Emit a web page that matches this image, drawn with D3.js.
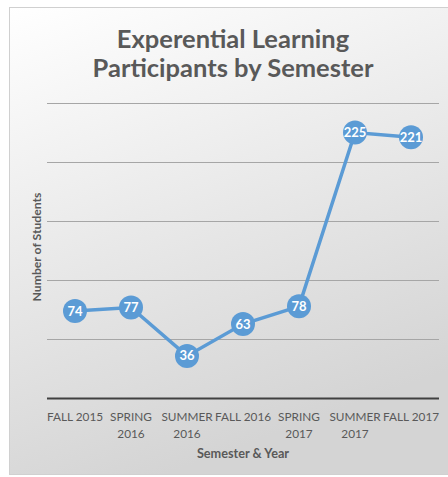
<!DOCTYPE html>
<html>
<head>
<meta charset="utf-8">
<script src="https://cdn.jsdelivr.net/npm/d3@7"></script>
<style>
  body { margin: 0; background: #fff; }
  svg { display: block; }
</style>
</head>
<body>
<svg width="448" height="477"></svg>
<script>
    let semesters = ["FALL 2015", "SPRING 2016", "SUMMER 2016", "FALL 2016", "SPRING 2017", "SUMMER 2017", "FALL 2017"];
    let tickLines = [["FALL 2015"], ["SPRING", "2016"], ["SUMMER", "2016"], ["FALL 2016"], ["SPRING", "2017"], ["SUMMER", "2017"], ["FALL 2017"]];
    let participants = [74, 77, 36, 63, 78, 225, 221];
    let gridValues = [50, 100, 150, 200, 250];

    let margin = { top: 103, right: 9, bottom: 78, left: 47 };
    let width = 448;
    let height = 477;

    let svg = d3.select("svg");

    let defs = svg.append("defs");
    let grad = defs.append("linearGradient")
        .attr("id", "bg")
        .attr("x1", "0").attr("y1", "0").attr("x2", "0.35").attr("y2", "1");
    grad.append("stop").attr("offset", "0%").attr("stop-color", "#ffffff");
    grad.append("stop").attr("offset", "100%").attr("stop-color", "#d4d4d4");

    svg.append("rect")
        .attr("x", 9.5).attr("y", 7.5)
        .attr("width", 445).attr("height", 467)
        .attr("fill", "url(#bg)")
        .attr("stroke", "#d0d0d0")

    let x = d3.scaleBand()
        .domain(semesters)
        .range([margin.left, width - margin.right])

    let y = d3.scaleLinear()
        .domain([0, 250])
        .range([398.5, margin.top])

    svg.append("g")
        .selectAll("line")
        .data(gridValues)
        .join("line")
        .attr("x1", margin.left)
        .attr("x2", width - margin.right)
        .attr("y1", d => Math.round(y(d)) + 0.5)
        .attr("y2", d => Math.round(y(d)) + 0.5)
        .style("stroke", "#a6a6a6")
        .style("stroke-width", 1)

    svg.append("line")
        .attr("x1", margin.left)
        .attr("x2", width - margin.right)
        .attr("y1", y(0))
        .attr("y2", y(0))
        .style("stroke", "#404040")
        .style("stroke-width", 2.2)

    let labels = svg.append("g")
        .selectAll("text")
        .data(semesters)
        .join("text")
        .attr("x", d => x(d) + x.bandwidth() / 2)
        .attr("y", 421)
        .attr("text-anchor", "middle")
        .style("font-family", "Lato, 'Open Sans', sans-serif")
        .style("font-size", "11.8px")
        .style("fill", "#595959")

    labels.selectAll("tspan")
        .data((d, i) => tickLines[i])
        .join("tspan")
        .attr("x", function () { return d3.select(this.parentNode).attr("x") })
        .attr("dy", (d, i) => i == 0 ? 0 : 17)
        .text(d => d)

    let line = d3.line()
        .x((d, i) => x(semesters[i]) + x.bandwidth() / 2)
        .y(d => y(d))

    svg.append("path")
        .datum(participants)
        .attr("d", line)
        .style("fill", "none")
        .style("stroke", "#5b9bd5")
        .style("stroke-width", 3.5)

    svg.append("g")
        .selectAll("circle")
        .data(participants)
        .join("circle")
        .attr("cx", (d, i) => x(semesters[i]) + x.bandwidth() / 2)
        .attr("cy", d => y(d))
        .attr("r", 12)
        .attr("fill", "#5b9bd5")

    svg.append("g")
        .selectAll("text")
        .data(participants)
        .join("text")
        .attr("x", (d, i) => x(semesters[i]) + x.bandwidth() / 2)
        .attr("y", d => y(d) + 4.5)
        .attr("text-anchor", "middle")
        .text(d => d)
        .style("font-family", "Lato, 'Open Sans', sans-serif")
        .style("font-weight", "bold")
        .style("font-size", "13px")
        .style("fill", "#ffffff")

    let title = svg.append("text")
        .attr("x", 233)
        .attr("y", 47.5)
        .attr("text-anchor", "middle")
        .style("font-family", "Lato, 'Open Sans', sans-serif")
        .style("font-weight", "bold")
        .style("font-size", "25.5px")
        .style("fill", "#595959")
    title.append("tspan").attr("x", 233).attr("dy", 0).text("Experential Learning")
    title.append("tspan").attr("x", 233).attr("dy", 29).text("Participants by Semester")

    svg.append("text")
        .attr("x", 243)
        .attr("y", 458)
        .attr("text-anchor", "middle")
        .text("Semester & Year")
        .style("font-family", "Lato, 'Open Sans', sans-serif")
        .style("font-weight", "bold")
        .style("font-size", "12.7px")
        .style("fill", "#595959")

    svg.append("text")
        .attr("transform", "translate(41, 247) rotate(-90)")
        .attr("text-anchor", "middle")
        .text("Number of Students")
        .style("font-family", "Lato, 'Open Sans', sans-serif")
        .style("font-weight", "bold")
        .style("font-size", "12.2px")
        .style("fill", "#595959")
</script>
</body>
</html>
